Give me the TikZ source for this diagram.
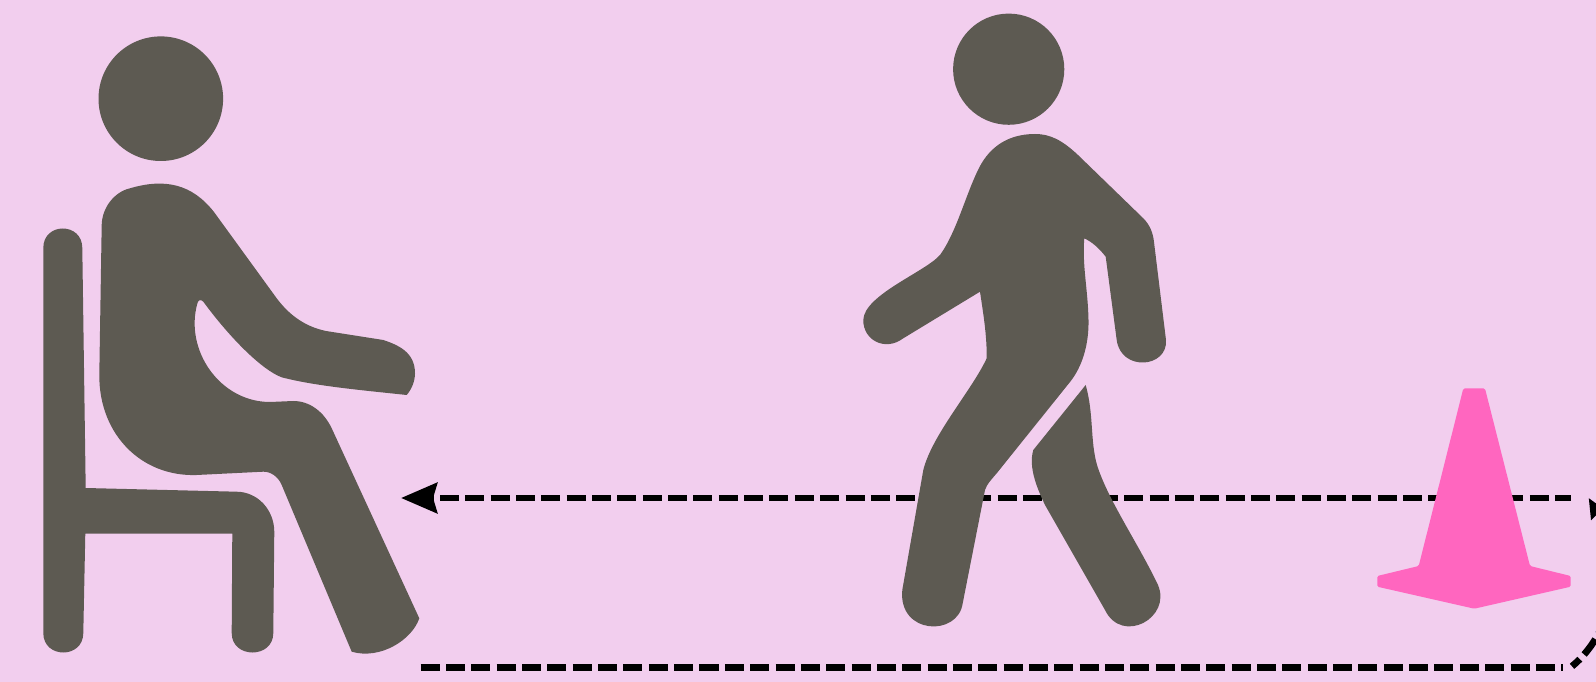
\documentclass[tikz,border=0pt]{standalone}
\usepackage{tikz}
\usetikzlibrary{arrows.meta}
\definecolor{bgpink}{HTML}{F2CEEE}
\definecolor{figgrey}{HTML}{5D5A52}
\definecolor{conepink}{HTML}{FF66BF}
\tikzset{
    figure/.style={fill=figgrey,draw=none},
    cone/.style={fill=conepink,draw=none,rounded corners=0.4pt},
    walkline/.style={line width=0.068cm,dash pattern=on 0.19cm off 0.0633cm},
    backhead/.style={line width=0.068cm,-{Stealth[length=0.36cm,width=0.30cm,inset=0.04cm]}},
    turnhead/.style={-{Stealth[length=0.20cm,width=0.17cm,inset=0.02cm]}}
}

\begin{document}
\begin{tikzpicture}[x=0.01cm,y=-0.01cm]
    \useasboundingbox (0,0) rectangle (1596,682);
    \fill[bgpink] (0,0) rectangle (1596,682);
    % ends of the walking path
    \coordinate (backtip) at (401,498);
    \coordinate (backneck) at (434,498);
    \coordinate (backstart) at (440,498);
    \coordinate (backend) at (1571,498);
    \coordinate (outstart) at (420.7,667.7);
    \coordinate (outend) at (1563,667.7);
    \coordinate (turnstart) at (1572,666.3);
    \coordinate (turntip) at (1588.7,498);
    \draw[walkline] (backstart)--(backend);                         % Walk back to chair
    \draw[backhead] (backneck)--(backtip);                          % Head of that walk
    \draw[walkline] (outstart)--(outend);                           % Walk out to cone
    \draw[walkline,dash phase=0.084cm,turnhead] (turnstart)
        .. controls (1610,635) and (1630,570) .. (turntip);         % Turn round cone
    % seated person
    \fill[figure] (160.8,98.7) circle[radius=62.3];                 % Head
    \fill[figure] (43.3,248) .. controls (43.3,222) and (82.3,222) .. (82.3,248)
        --(85.7,488)--(236.7,491.7)
        .. controls (258,492) and (274.3,510) .. (274.3,532)
        --(273.3,633) .. controls (273.3,659) and (231.7,659) .. (231.7,633)
        --(232.3,533.7)--(85.3,533.7)--(83.3,633)
        .. controls (83.3,659) and (43.3,659) .. (43.3,633)--cycle; % Chair
    \fill[figure] (101.7,225) .. controls (102,208) and (114,192) .. (130,188.3)
        .. controls (165,178) and (192,184) .. (214,212)
        --(276.7,298.3) .. controls (287,312) and (302,326) .. (326,331)
        --(383.3,340) .. controls (398,345) and (415,352) .. (415,373.3)
        .. controls (415,382) and (411,390) .. (406.7,395)
        .. controls (360,390) and (315,386) .. (281.7,377.3)
        .. controls (262,370) and (230,338) .. (203.3,301.7)
        .. controls (201,299) and (198,300) .. (197.5,303)
        .. controls (184,350) and (220,402) .. (270,402)
        --(293.3,401) .. controls (310,401) and (324,412) .. (331.7,428.3)
        --(419.3,618.3) .. controls (412,640) and (380,660) .. (351.7,651.7)
        --(281.7,485) .. controls (278,476) and (270,471.5) .. (263.3,471.7)
        --(196.7,475) .. controls (142,477) and (99,435) .. (99.3,375)
        --cycle;                                                    % Body
    % walking person
    \fill[figure] (1008.7,69.2) circle[radius=55.6];                % Head
    \fill[figure] (1035,134) .. controls (1050,134) and (1062,140) .. (1078,155)
        --(1143.3,218.3) .. controls (1150,225) and (1153,233) .. (1154,242)
        --(1166,340) .. controls (1168,368) and (1121,372) .. (1116.7,340)
        --(1105.7,256.7) .. controls (1099,248) and (1092,242) .. (1084.3,238.3)
        .. controls (1082,265) and (1088,290) .. (1088.5,320)
        .. controls (1089,345) and (1082,367) .. (1070,382)
        --(996.7,473.3) .. controls (991,480) and (987,484) .. (985,490)
        --(962.7,603.3) .. controls (958,637) and (898,635) .. (902.3,590)
        --(923.3,470) .. controls (932,435) and (972,390) .. (986.7,358.3)
        .. controls (987,335) and (983,312) .. (980,291.7)
        --(903.3,338.3) .. controls (885,352) and (863,340) .. (863.3,320)
        .. controls (864,295) and (925,272) .. (940,255)
        .. controls (956,233) and (965,197) .. (978,170)
        .. controls (987,151) and (1004,134) .. (1035,134)--cycle;  % Body and front leg
    \fill[figure] (1085.7,385) .. controls (1094,415) and (1090,440) .. (1097,465)
        .. controls (1108,500) and (1138,543) .. (1158,585)
        .. controls (1172,618) and (1122,645) .. (1105,610)
        --(1045,505) .. controls (1038,490) and (1028,468) .. (1033.3,450)
        --cycle;                                                    % Back leg
    % cone
    \fill[cone] (1463.3,388.5)--(1485,388.5)
        --(1530,566)--(1570.7,576)--(1570.7,586.7)--(1474.3,608.7)
        --(1377.3,586.7)--(1377.3,576)--(1418.7,566)--cycle;
\end{tikzpicture}
\end{document}
